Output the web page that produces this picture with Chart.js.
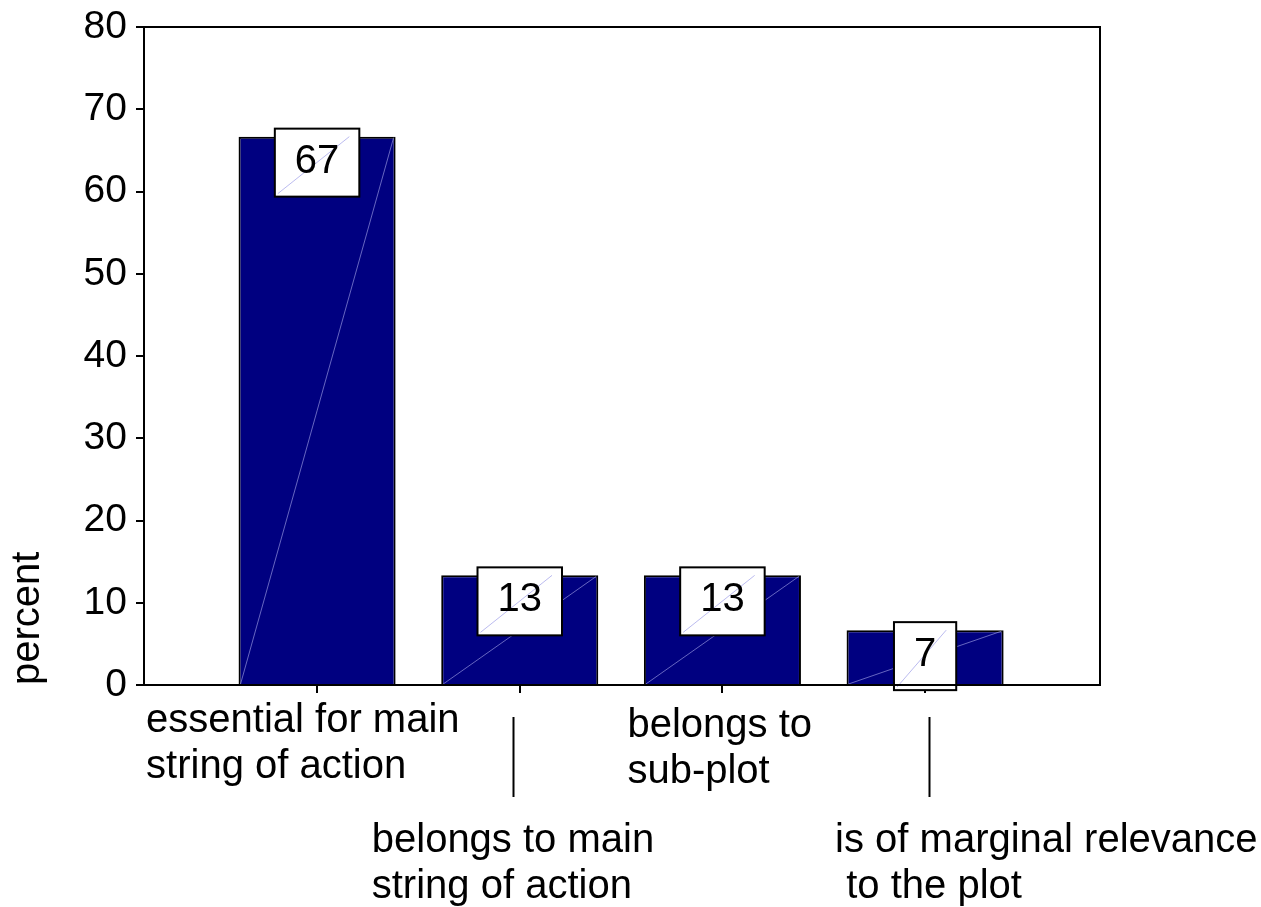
<!DOCTYPE html>
<html>
<head>
<meta charset="utf-8">
<script src="https://cdn.jsdelivr.net/npm/chart.js@4/dist/chart.umd.min.js"></script>
<style>
  html, body { margin: 0; padding: 0; background: #fff; }
  #caixa { width: 1261px; height: 907px; }
</style>
</head>
<body>
<div id="caixa"><canvas id="grafico"></canvas></div>
<script>
// dados
const categorias = [
  ["essential for main", "string of action"],
  ["belongs to main", "string of action"],
  ["belongs to", "sub-plot"],
  ["is of marginal relevance", " to the plot"]
];
const posicoes = [1, 2, 3, 4];
const percentagens = [66.67, 13.33, 13.33, 6.67];
const rotulos = ["67", "13", "13", "7"];
const ticksY = [0, 10, 20, 30, 40, 50, 60, 70, 80];

const FONTE = "Liberation Sans, Arial, sans-serif";

// plugin: moldura, diagonais, caixas de valores e rótulos do eixo x
const desenhoExtra = {
  id: "desenhoExtra",
  afterDatasetsDraw(chart) {
    const ctx = chart.ctx;
    const area = chart.chartArea;
    const meta = chart.getDatasetMeta(0);
    const x = chart.scales.x;

    ctx.save();
    // linha diagonal clara nas barras
    meta.data.forEach((bar) => {
      const p = bar.getProps(["x", "y", "base", "width"], true);
      ctx.strokeStyle = "rgba(170,170,235,0.6)";
      ctx.lineWidth = 1;
      ctx.beginPath();
      ctx.moveTo(p.x - p.width / 2 + 2, p.base);
      ctx.lineTo(p.x + p.width / 2 - 2, p.y + 1);
      ctx.stroke();
    });

    // caixas com os valores
    ctx.font = "40px " + FONTE;
    meta.data.forEach((bar, i) => {
      const p = bar.getProps(["x", "y"], true);
      const w = ctx.measureText(rotulos[i]).width + 40;
      const topo = p.y - 8;
      const alt = 68;
      ctx.fillStyle = "#fff";
      ctx.fillRect(p.x - w / 2, topo, w, alt);
      ctx.strokeStyle = "rgba(170,170,235,0.8)";
      ctx.lineWidth = 1;
      ctx.beginPath();
      ctx.moveTo(p.x - w / 2 + 3, topo + alt - 3);
      ctx.lineTo(p.x + w / 2 - 10, topo + 8);
      ctx.stroke();
      ctx.strokeStyle = "#000";
      ctx.lineWidth = 2;
      ctx.strokeRect(p.x - w / 2, topo, w, alt);
      ctx.fillStyle = "#000";
      ctx.textAlign = "center";
      ctx.textBaseline = "middle";
      ctx.fillText(rotulos[i], p.x, topo + alt / 2 - 1);
    });

    // moldura
    ctx.strokeStyle = "#000";
    ctx.lineWidth = 2;
    ctx.beginPath();
    ctx.moveTo(area.left, area.top);
    ctx.lineTo(area.right, area.top);
    ctx.lineTo(area.right, area.bottom);
    ctx.lineTo(area.left - 8, area.bottom);
    ctx.stroke();

    // rótulos das categorias (em duas filas) e linhas de ligação
    const desloc = [-171, -148, -95, -90];
    const linhaBase = [732, 852, 737, 852];
    ctx.font = "40px " + FONTE;
    ctx.textAlign = "left";
    ctx.textBaseline = "alphabetic";
    ctx.fillStyle = "#000";
    categorias.forEach((linhas, i) => {
      const px = x.getPixelForValue(posicoes[i]);
      linhas.forEach((t, j) => {
        ctx.fillText(t, px + desloc[i], linhaBase[i] + j * 46);
      });
      if (i % 2 === 1) {
        const lx = Math.round(px + (i === 1 ? -7 : 4)) + 0.5;
        ctx.lineWidth = 2;
        ctx.beginPath();
        ctx.moveTo(lx, 717);
        ctx.lineTo(lx, 797);
        ctx.stroke();
      }
    });
    ctx.restore();
  }
};

new Chart(document.getElementById("grafico"), {
  type: "bar",
  data: {
    datasets: [{
      data: posicoes.map((p, i) => ({ x: p, y: percentagens[i] })),
      backgroundColor: "#000080",
      borderColor: "#000",
      borderWidth: 2,
      barPercentage: 0.775,
      categoryPercentage: 1
    }]
  },
  options: {
    responsive: true,
    maintainAspectRatio: false,
    animation: false,
    layout: { autoPadding: false, padding: { top: 27, right: 161, bottom: 0, left: 0 } },
    plugins: {
      legend: { display: false },
      tooltip: { enabled: false }
    },
    scales: {
      x: {
        type: "linear",
        offset: false,
        min: 0.146,
        max: 4.863,
        afterBuildTicks: (s) => { s.ticks = posicoes.map((v) => ({ value: v })); },
        afterFit: (s) => { s.height = 222; },
        ticks: { callback: () => "", font: { size: 10 } },
        grid: { offset: false, drawOnChartArea: false, color: "#000", lineWidth: 2, tickLength: 8 },
        border: { color: "#000", width: 2 }
      },
      y: {
        min: 0,
        max: 80,
        afterBuildTicks: (s) => { s.ticks = ticksY.map((v) => ({ value: v })); },
        afterFit: (s) => { s.width = 144; },
        ticks: {
          color: "#000",
          padding: 9,
          font: { family: FONTE, size: 39, lineHeight: 0.9 }
        },
        grid: { drawOnChartArea: false, color: "#000", lineWidth: 2, tickLength: 8 },
        border: { color: "#000", width: 2 },
        title: {
          display: true,
          text: "percent",
          align: "start",
          color: "#000",
          padding: { top: 4, bottom: 0 },
          font: { family: FONTE, size: 40 }
        }
      }
    }
  },
  plugins: [desenhoExtra]
});
</script>
</body>
</html>
